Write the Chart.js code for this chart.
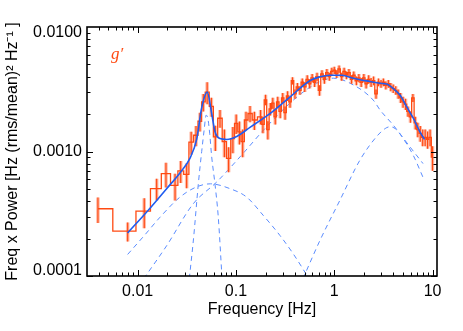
<!DOCTYPE html>
<html lang="en">
<head>
<meta charset="UTF-8">
<title>g' power spectrum</title>
<script src="https://cdn.jsdelivr.net/npm/chart.js"></script>
<style>
  body { margin: 0; background: #fff; }
  canvas { display: block; }
</style>
</head>
<body>
<canvas id="psd" width="463" height="331"></canvas>
<script>
  // binned power spectrum: frequency (Hz), freq x power, 1-sigma error
  const freqs = [
    0.00394, 0.00791, 0.01166, 0.0156, 0.0194, 0.0240, 0.0274, 0.0315, 0.0350, 0.0392,
    0.0430, 0.0465, 0.0509, 0.0562, 0.0617, 0.0688, 0.0762, 0.0842, 0.0930, 0.1005,
    0.1085, 0.117, 0.1265, 0.139, 0.154,
    0.178, 0.188, 0.200, 0.211, 0.224, 0.237, 0.251, 0.266, 0.282, 0.299,
    0.316, 0.335, 0.355, 0.376, 0.398, 0.422, 0.447, 0.473, 0.501, 0.531,
    0.562, 0.596, 0.631, 0.668, 0.708, 0.750, 0.794, 0.841, 0.891, 0.944,
    1.00, 1.06, 1.12, 1.19, 1.26, 1.33, 1.41, 1.50, 1.58, 1.68,
    1.78, 1.88, 2.00, 2.11, 2.24, 2.37, 2.51, 2.66, 2.82, 2.99,
    3.16, 3.35, 3.55, 3.76, 3.98, 4.22, 4.47, 4.73, 5.01, 5.31,
    5.62, 5.96, 6.31, 6.68, 7.08, 7.50, 7.94, 8.41, 8.91, 9.44, 10.0
  ];
  const power = [
    0.000347, 0.000229, 0.000332, 0.000504, 0.000664, 0.000534, 0.000698, 0.000656, 0.00119, 0.00135,
    0.00175, 0.0025, 0.0030, 0.0023, 0.00131, 0.00185, 0.0012, 0.00088, 0.00127, 0.00168,
    0.00144, 0.0012, 0.00179, 0.00202, 0.00179,
    0.0019, 0.00165, 0.0026, 0.0015, 0.0022, 0.00245, 0.0019, 0.0025, 0.0021, 0.0027,
    0.00205, 0.0028, 0.0025, 0.0037, 0.0029, 0.0033, 0.0031, 0.0036, 0.0033, 0.0038,
    0.0035, 0.0039, 0.0036, 0.0040, 0.0031, 0.0042, 0.0038, 0.0043, 0.0040, 0.0044,
    0.0045, 0.0042, 0.0046, 0.0040, 0.0044, 0.0041, 0.0043, 0.0038, 0.0041, 0.0037,
    0.0039, 0.0036, 0.0039, 0.0035, 0.0038, 0.0036, 0.0037, 0.0029, 0.0036, 0.0035,
    0.0036, 0.0034, 0.0035, 0.0033, 0.0032, 0.0031, 0.0029, 0.0027, 0.0025, 0.0024,
    0.0021, 0.0019, 0.0027, 0.0017, 0.0015, 0.0014, 0.0013, 0.0013, 0.00125, 0.0013, 0.0009
  ];
  const sigma = [
    0.00008, 0.00004, 0.00009, 0.0001, 0.00015, 0.00013, 0.00014, 0.00015, 0.00025, 0.00025,
    0.0003, 0.0004, 0.0006, 0.0004, 0.0003, 0.0003, 0.0003, 0.0002, 0.0003, 0.0003,
    0.0003, 0.0003, 0.0003, 0.0003, 0.0003,
    0.00025, 0.00025, 0.00025, 0.00025, 0.00025, 0.00025, 0.00025, 0.00025, 0.00025, 0.00025,
    0.00025, 0.00025, 0.00025, 0.00025, 0.00025, 0.00025, 0.00025, 0.00025, 0.0003, 0.0003,
    0.0003, 0.0003, 0.0003, 0.0003, 0.0003, 0.0003, 0.0003, 0.0003, 0.0003, 0.0003,
    0.0003, 0.0003, 0.0003, 0.0003, 0.0003, 0.0003, 0.0003, 0.0003, 0.0003, 0.0003,
    0.0003, 0.0003, 0.0003, 0.0003, 0.0003, 0.0003, 0.0003, 0.00025, 0.00025, 0.00025,
    0.00025, 0.00025, 0.00025, 0.00025, 0.00025, 0.00025, 0.00025, 0.00025, 0.00025, 0.00025,
    0.0002, 0.0002, 0.0002, 0.0002, 0.0002, 0.0002, 0.0002, 0.0002, 0.0002, 0.0002, 0.0002
  ];

  // total model and its Lorentzian components, [freq, freq x power]
  const model = [
    [0.0079, 0.000222], [0.0119, 0.000316], [0.0197, 0.000503], [0.0269, 0.000673],
    [0.034, 0.00088], [0.0398, 0.00125], [0.0448, 0.00225], [0.051, 0.0030],
    [0.0566, 0.00202], [0.0611, 0.00145], [0.0687, 0.00127], [0.0804, 0.00125],
    [0.1017, 0.00132], [0.14, 0.00157], [0.177, 0.00178], [0.223, 0.00202],
    [0.356, 0.00275], [0.569, 0.00372], [0.716, 0.00398], [0.907, 0.0041],
    [1.2, 0.0041], [1.56, 0.00388], [2.31, 0.00365], [2.93, 0.00353],
    [3.41, 0.00348], [4.0, 0.0032], [4.66, 0.00284], [5.45, 0.00229],
    [6.37, 0.00185], [7.44, 0.00144], [8.3, 0.00125]
  ];
  const compLow = [
    [0.0079, 0.000149], [0.0119, 0.000215], [0.0169, 0.000297], [0.0269, 0.00043],
    [0.0398, 0.00052], [0.055, 0.00055], [0.0869, 0.000503], [0.1285, 0.00043],
    [0.19, 0.000306], [0.281, 0.000211], [0.384, 0.00015], [0.504, 0.000107], [0.55, 0.000095]
  ];
  const compQpo = [
    [0.0335, 0.000095], [0.037, 0.0002], [0.0414, 0.00055], [0.0448, 0.001],
    [0.0475, 0.0015], [0.0497, 0.00196], [0.052, 0.0018], [0.054, 0.0014],
    [0.0566, 0.00091], [0.0611, 0.00055], [0.066, 0.0003], [0.0722, 0.000095]
  ];
  const compMid = [
    [0.0115, 0.000095], [0.0197, 0.000175], [0.0368, 0.000381], [0.0637, 0.000569],
    [0.11, 0.000906], [0.205, 0.00158], [0.384, 0.00259], [0.661, 0.00353],
    [0.977, 0.00388], [1.56, 0.00343], [2.49, 0.00259], [2.93, 0.00215],
    [3.98, 0.00163], [5.89, 0.00109], [8.0, 0.0008]
  ];
  const compHigh = [
    [0.48, 0.000095], [0.715, 0.000193], [1.14, 0.000405], [1.82, 0.00085],
    [2.7, 0.00132], [3.3, 0.00153], [3.68, 0.00158], [4.2, 0.00152],
    [5.0, 0.00128], [6.37, 0.00093], [8.0, 0.00062]
  ];

  const xTicks = [0.01, 0.1, 1, 10];
  const xTickLabels = ['0.01', '0.1', '1', '10'];
  const yTicks = [0.0001, 0.001, 0.01];
  const yTickLabels = ['0.0001', '0.0010', '0.0100'];

  const dataColor = '#ff4a12';
  const modelColor = '#1f5cf0';
  const compColor = '#5a8cff';

  const toPts = arr => arr.map(p => ({ x: p[0], y: p[1] }));

  const errPts = [];
  freqs.forEach((f, i) => {
    errPts.push({ x: f, y: power[i] - sigma[i] }, { x: f, y: power[i] + sigma[i] }, { x: f, y: null });
  });

  const dashed = (pts) => ({
    data: toPts(pts),
    borderColor: compColor,
    borderWidth: 1,
    borderDash: [5, 4],
    pointRadius: 0,
    cubicInterpolationMode: 'monotone',
    order: 5
  });

  // box with inward ticks on all four sides + the band label
  const frame = {
    id: 'frame',
    afterDraw(chart) {
      const { ctx, chartArea: a } = chart;
      const xs = chart.scales.x, ys = chart.scales.y;
      ctx.save();
      ctx.strokeStyle = '#000';
      ctx.lineWidth = 1;
      const seg = (x1, y1, x2, y2) => { ctx.beginPath(); ctx.moveTo(x1, y1); ctx.lineTo(x2, y2); ctx.stroke(); };
      for (const d of [0.001, 0.01, 0.1, 1, 10]) {
        for (let m = 1; m < 10; m++) {
          const v = d * m;
          const len = m === 1 ? 6 : 3.5;
          if (v > xs.min && v < xs.max) {
            const px = Math.round(xs.getPixelForValue(v)) + 0.5;
            seg(px, a.bottom, px, a.bottom - len);
            seg(px, a.top, px, a.top + len);
          }
        }
      }
      for (const d of [0.0001, 0.001]) {
        for (let m = 1; m < 10; m++) {
          const v = d * m;
          const len = m === 1 ? 6 : 3.5;
          const py = Math.round(ys.getPixelForValue(v)) + 0.5;
          seg(a.left, py, a.left + len, py);
          seg(a.right, py, a.right - len, py);
        }
      }
      ctx.lineWidth = 1.6;
      ctx.strokeRect(a.left, a.top, a.right - a.left, a.bottom - a.top);
      ctx.fillStyle = dataColor;
      ctx.font = 'italic 17px "Liberation Serif", "DejaVu Serif", serif';
      ctx.textBaseline = 'alphabetic';
      ctx.fillText('g\u2032', 111, 59);
      ctx.restore();
    }
  };

  Chart.defaults.font.family = '"Liberation Sans", Arial, Helvetica, sans-serif';
  Chart.defaults.color = '#000';

  new Chart(document.getElementById('psd'), {
    type: 'line',
    data: {
      datasets: [
        {
          data: toPts(model),
          borderColor: modelColor,
          borderWidth: 1.6,
          pointRadius: 0,
          cubicInterpolationMode: 'monotone',
          order: 1
        },
        {
          data: freqs.map((f, i) => ({ x: f, y: power[i] })),
          borderColor: dataColor,
          borderWidth: 1.3,
          pointRadius: 0,
          stepped: 'middle',
          order: 2
        },
        {
          data: errPts,
          borderColor: dataColor,
          borderWidth: 1.2,
          pointRadius: 0,
          spanGaps: false,
          order: 3
        },
        {
          data: errPts,
          borderColor: 'rgba(255, 130, 95, 0.55)',
          borderWidth: 3.5,
          pointRadius: 0,
          spanGaps: false,
          order: 4
        },
        dashed(compLow),
        dashed(compQpo),
        dashed(compMid),
        dashed(compHigh)
      ]
    },
    options: {
      responsive: false,
      devicePixelRatio: 1,
      animation: false,
      layout: { padding: { left: 0, right: 26, top: 27, bottom: 0 } },
      plugins: { legend: { display: false }, tooltip: { enabled: false } },
      scales: {
        x: {
          type: 'logarithmic',
          min: 0.00305,
          max: 11.1,
          bounds: 'data',
          grid: { display: false, drawTicks: false },
          border: { display: false },
          afterBuildTicks: s => { s.ticks = xTicks.map(v => ({ value: v })); },
          afterFit: s => { s.height = 55; },
          ticks: {
            autoSkip: false,
            maxRotation: 0,
            padding: 6,
            font: { size: 16 },
            callback: (v, i) => xTickLabels[i]
          },
          title: {
            display: true,
            text: 'Frequency [Hz]',
            font: { size: 16 },
            padding: { top: 0, bottom: 12 }
          }
        },
        y: {
          type: 'logarithmic',
          min: 0.0001,
          max: 0.01,
          bounds: 'data',
          grid: { display: false, drawTicks: false },
          border: { display: false },
          afterBuildTicks: s => { s.ticks = yTicks.map(v => ({ value: v })); },
          afterFit: s => { s.width = 87; },
          ticks: {
            autoSkip: false,
            padding: 5,
            font: ctx => ({ size: 16, lineHeight: ctx.index === 1 ? 1.2 : 0.65 }),
            callback: (v, i) => i === 0 ? [yTickLabels[i], ''] : (i === 2 ? ['', yTickLabels[i]] : yTickLabels[i])
          },
          title: {
            display: true,
            text: 'Freq x Power [Hz (rms/mean)\u00B2 Hz\u207B\u00B9 ]',
            font: { size: 16 },
            padding: { top: 3, bottom: 0 }
          }
        }
      }
    },
    plugins: [frame]
  });
</script>
</body>
</html>
